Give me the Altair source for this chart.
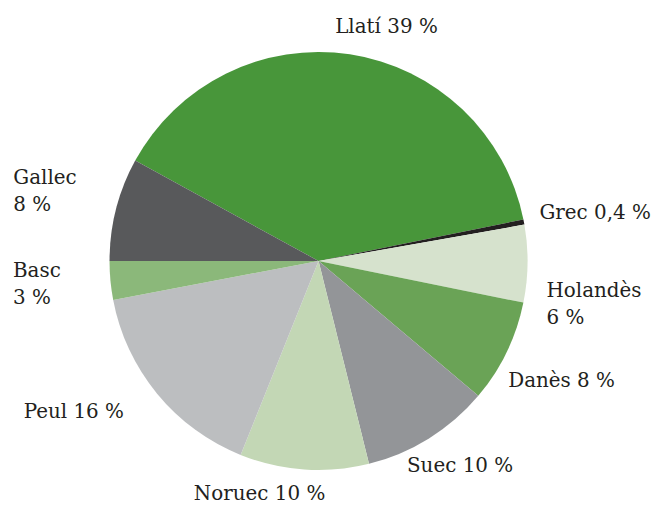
import math
import altair as alt
import pandas as pd

categories = ["Llatí", "Grec", "Holandès", "Danès", "Suec", "Noruec", "Peul", "Basc", "Gallec"]
values = [39, 0.4, 6, 8, 10, 10, 16, 3, 8]
labels = ["Llatí 39 %", "Grec 0,4 %", "Holandès\n6 %", "Danès 8 %", "Suec 10 %",
          "Noruec 10 %", "Peul 16 %", "Basc\n\u00a03 %", "Gallec\n8 %"]
colors = ["#48963a", "#231f20", "#d6e2cd", "#6aa356", "#939598",
          "#c3d7b5", "#bcbec0", "#8bb87a", "#58595b"]

df = pd.DataFrame({"cat": categories, "value": values, "label": labels,
                   "idx": list(range(len(categories)))})
total = sum(values)
t0 = math.radians(-61.3)
theta_range = [t0, t0 + 2 * math.pi]

color_scale = alt.Scale(domain=categories, range=colors)

base = alt.Chart(df)

pie = base.mark_arc(outerRadius=210).encode(
    theta=alt.Theta("value:Q", stack=True,
                    scale=alt.Scale(domain=[0, total], range=theta_range)),
    color=alt.Color("cat:N", scale=color_scale, legend=None),
    order=alt.Order("idx:Q"),
)

# label style per category: (align, dx, dy)
label_style = {
    "Llatí": ("center", 33, -3),
    "Grec": ("left", -9, -4),
    "Holandès": ("left", -6, 27),
    "Danès": ("left", -21, 18),
    "Suec": ("center", 18, 6),
    "Noruec": ("center", -43, 0),
    "Peul": ("right", -14, 2),
    "Basc": ("left", -73, -12),
    "Gallec": ("left", -79, -25),
}

text_base = base.transform_window(
    cum="sum(value)", sort=[alt.SortField("idx")], frame=[None, 0]
).transform_calculate(mid="datum.cum - datum.value / 2")

layers = [pie]
for cat in categories:
    align, dx, dy = label_style[cat]
    layers.append(
        text_base.transform_filter(alt.datum.cat == cat).mark_text(
            radius=235, align=align, baseline="middle", dx=dx, dy=dy,
            font="DejaVu Serif", fontSize=20, color="#231f20",
            lineBreak="\n", lineHeight=27,
        ).encode(
            theta=alt.Theta("mid:Q", scale=alt.Scale(domain=[0, total], range=theta_range)),
            text="label:N",
        )
    )

chart = alt.layer(*layers).properties(
    width=624, height=490,
    padding={"top": 7, "left": 0, "right": 0, "bottom": 2},
).configure_view(stroke=None)

chart.save("out.html", embed_options={"renderer": "svg", "actions": False})
